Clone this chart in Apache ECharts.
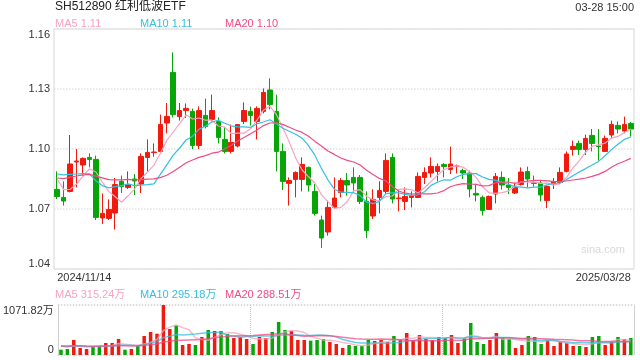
<!DOCTYPE html>
<html><head><meta charset="utf-8">
<script src="https://cdn.jsdelivr.net/npm/echarts@6/dist/echarts.min.js"></script>
<style>html,body{margin:0;padding:0;background:#fff}#c{width:640px;height:360px}</style>
</head><body><div id="c"></div>
<script>
const dates = [
'2024/11/14','2024/11/15','2024/11/18','2024/11/19','2024/11/20','2024/11/21','2024/11/22','2024/11/25','2024/11/26','2024/11/27','2024/11/28','2024/11/29',
'2024/12/02','2024/12/03','2024/12/04','2024/12/05','2024/12/06','2024/12/09','2024/12/10','2024/12/11','2024/12/12','2024/12/13','2024/12/16','2024/12/17','2024/12/18','2024/12/19','2024/12/20','2024/12/23','2024/12/24','2024/12/25','2024/12/26','2024/12/27','2024/12/30','2024/12/31',
'2025/01/02','2025/01/03','2025/01/06','2025/01/07','2025/01/08','2025/01/09','2025/01/10','2025/01/13','2025/01/14','2025/01/15','2025/01/16','2025/01/17','2025/01/20','2025/01/21','2025/01/22','2025/01/23','2025/01/24','2025/01/27',
'2025/02/05','2025/02/06','2025/02/07','2025/02/10','2025/02/11','2025/02/12','2025/02/13','2025/02/14','2025/02/17','2025/02/18','2025/02/19','2025/02/20','2025/02/21','2025/02/24','2025/02/25','2025/02/26','2025/02/27','2025/02/28',
'2025/03/03','2025/03/04','2025/03/05','2025/03/06','2025/03/07','2025/03/10','2025/03/11','2025/03/12','2025/03/13','2025/03/14','2025/03/17','2025/03/18','2025/03/19','2025/03/20','2025/03/21','2025/03/24','2025/03/25','2025/03/26','2025/03/27','2025/03/28'];

const opens = [1.0798,1.0758,1.0788,1.0935,1.092,1.0958,1.0948,1.0655,1.0653,1.068,
1.0838,1.0808,1.085,1.0825,1.0958,1.0982,1.0988,1.113,1.1383,1.1162,
1.1192,1.1188,1.1018,1.1168,1.1148,1.1138,1.1048,1.0988,1.1015,1.1138,
1.1188,1.1138,1.1188,1.1295,1.1188,1.0988,1.0828,1.0848,1.0848,1.0908,
1.0788,1.0645,1.0585,1.0708,1.0782,1.0842,1.0858,1.0858,1.0738,1.0665,
1.0758,1.0788,1.0958,1.0752,1.0738,1.0758,1.0758,1.0858,1.088,1.0888,
1.0922,1.0898,1.0912,1.0892,1.088,1.0778,1.0758,1.0698,1.0775,1.0858,
1.082,1.078,1.0822,1.0887,1.0832,1.083,1.0742,1.0825,1.0833,1.0888,
1.0998,1.1028,1.0998,1.1068,1.1015,1.0988,1.107,1.1118,1.109,1.1128];
const closes = [1.0762,1.074,1.0925,1.094,1.0953,1.0948,1.0658,1.0678,1.0698,1.0822,
1.0812,1.0822,1.084,1.0963,1.0983,1.0985,1.1123,1.1163,1.1172,1.1192,
1.1203,1.1018,1.1192,1.1113,1.1192,1.1058,1.0988,1.1033,1.1122,1.1192,
1.1168,1.1203,1.1283,1.1222,1.0988,1.0838,1.0842,1.0883,1.0923,1.082,
1.0678,1.0555,1.0708,1.0755,1.0842,1.082,1.083,1.0738,1.0592,1.0748,
1.0792,1.0943,1.075,1.0755,1.0763,1.0767,1.0863,1.0883,1.0913,1.0913,
1.0912,1.0925,1.0915,1.088,1.080,1.077,1.0692,1.0763,1.0863,1.082,
1.0808,1.0808,1.0885,1.085,1.0828,1.077,1.0813,1.0837,1.0883,1.0975,
1.1013,1.0998,1.1053,1.1028,1.1012,1.1053,1.1123,1.11,1.1123,1.11];
const lows = [1.075,1.0717,1.0783,1.0808,1.0867,1.0908,1.0645,1.0625,1.0645,1.0597,
1.078,1.080,1.077,1.078,1.0888,1.0962,1.0978,1.1078,1.1158,1.1142,
1.1155,1.100,1.100,1.1103,1.1138,1.1028,1.0978,1.0978,1.1008,1.1125,
1.1117,1.1048,1.1178,1.1198,1.0888,1.0795,1.0717,1.0758,1.0788,1.0787,
1.0667,1.0505,1.0567,1.070,1.0758,1.0767,1.0783,1.0725,1.0555,1.065,
1.0678,1.0775,1.0728,1.0688,1.0695,1.0708,1.0755,1.0825,1.0858,1.0838,
1.0858,1.0875,1.0878,1.085,1.0758,1.0738,1.0667,1.0695,1.0728,1.0797,
1.0775,1.0775,1.0817,1.0808,1.0812,1.0738,1.0705,1.080,1.0825,1.0883,
1.0967,1.097,1.097,1.0988,1.0942,1.0988,1.1053,1.1078,1.1078,1.1062];
const highs = [1.0888,1.0838,1.107,1.100,1.0958,1.0978,1.0967,1.0778,1.0748,1.0855,
1.0867,1.0888,1.0875,1.0978,1.1048,1.1028,1.1172,1.123,1.1483,1.123,
1.1228,1.1202,1.1213,1.1252,1.1272,1.1158,1.1108,1.1122,1.1125,1.1233,
1.1212,1.1213,1.1303,1.1353,1.1272,1.1028,1.0858,1.0888,1.0958,1.0912,
1.0825,1.0667,1.0742,1.0858,1.0855,1.088,1.0908,1.087,1.0788,1.0798,
1.0838,1.0978,1.0978,1.0795,1.0808,1.0788,1.0883,1.0908,1.0958,1.0928,
1.093,1.1012,1.0922,1.0902,1.0892,1.0822,1.0767,1.0767,1.088,1.0888,
1.0855,1.0832,1.0908,1.0912,1.0867,1.0842,1.0818,1.0855,1.0908,1.0988,
1.1042,1.1042,1.1072,1.110,1.110,1.1067,1.1142,1.1138,1.1162,1.1135];
const volumes = [114,129,322,150,129,179,193,257,257,343,
114,129,200,407,493,457,1071.82,557,636,214,
236,214,386,536,514,514,450,364,386,343,
236,386,364,493,707,536,514,322,322,307,
322,343,279,236,150,214,193,193,322,300,
322,279,407,322,472,322,429,343,322,386,
364,429,257,364,686,279,236,322,472,364,
343,150,214,407,386,236,322,193,279,257,
193,193,171,386,407,214,279,386,343,364];
// estimated closes/volumes of the 19 sessions before the first one shown (read from where the MA lines start)
const prevCloses = [1.080,1.078,1.082,1.086,1.088,1.085,1.083,1.087,1.084,1.082,1.078,1.0905,1.092,1.0935,1.0955,1.1007,1.092,1.0805,1.0758];
const prevVolumes = [180,210,160,230,190,170,220,200,150,240,210,180,190,230,170,200,210,190,220];

const priceMin = 1.04, priceMax = 1.16, priceStep = 0.03;
const volMax = 1071.82;
const titleText = 'SH512890 红利低波ETF';
const timeText = '03-28 15:00';
const maLegend = ['MA5 1.11','MA10 1.11','MA20 1.10'];
const volLegend = ['MA5 315.24万','MA10 295.18万','MA20 288.51万'];

const RED = '#f01a0e', GREEN = '#07a507';
const C5 = '#f7a3c2', C10 = '#36c0e0', C20 = '#ee4d84';
const FONT = '"Liberation Sans", Arial, "Noto Sans CJK SC", sans-serif';

function ma(n, prev, arr, dec) {
  const all = prev.concat(arr);
  return arr.map((_, i) => {
    const j = i + prev.length; let s = 0;
    for (let k = j - n + 1; k <= j; k++) s += all[k];
    return +(s / n).toFixed(dec);
  });
}
const candle = opens.map((o, i) => [o, closes[i], lows[i], highs[i]]);
const volData = volumes.map((v, i) => ({value: v, itemStyle: {color: closes[i] >= opens[i] ? RED : GREEN}}));

function lineSeries(name, data, color, xi, yi, w, op) {
  return {name, type: 'line', data, xAxisIndex: xi, yAxisIndex: yi, symbol: 'none', smooth: false,
    lineStyle: {color, width: w, opacity: op}, itemStyle: {color}, z: 3, silent: true};
}

const chart = echarts.init(document.getElementById('c'), null, {renderer: 'canvas'});
chart.setOption({
  animation: false,
  backgroundColor: '#fff',
  textStyle: {fontFamily: FONT},
  grid: [
    {left: 54, right: 6, top: 29, height: 240, show: true, borderColor: '#d6d6d6', borderWidth: 1, backgroundColor: 'transparent'},
    {left: 54, right: 6, top: 305, height: 50}
  ],
  xAxis: [
    {type: 'category', gridIndex: 0, data: dates, boundaryGap: true,
      axisLine: {show: false}, axisTick: {show: false}, splitLine: {show: false},
      axisLabel: {interval: (i) => i === 0 || i === dates.length - 1, color: '#333', fontSize: 11, margin: 3,
        fontFamily: FONT, alignMinLabel: 'left', alignMaxLabel: 'right'}},
    {type: 'category', gridIndex: 1, data: dates, boundaryGap: true,
      axisLine: {show: false}, axisTick: {show: false}, axisLabel: {show: false},
      splitLine: {show: true, interval: (i) => i === 30 || i === 60, lineStyle: {color: '#c8c8c8', type: 'dotted', width: 1}}}
  ],
  yAxis: [
    {type: 'value', gridIndex: 0, min: priceMin, max: priceMax, interval: priceStep, scale: true,
      axisLine: {show: false}, axisTick: {show: false},
      splitLine: {show: true, lineStyle: {color: '#e2e2e2', type: 'dotted', width: 1.5}},
      axisLabel: {color: '#333', fontSize: 11, margin: 4, fontFamily: FONT, formatter: (v) => v.toFixed(2),
        verticalAlignMinLabel: 'bottom', verticalAlignMaxLabel: 'top'}},
    {type: 'value', gridIndex: 1, min: 0, max: volMax, interval: volMax,
      axisLine: {show: true, lineStyle: {color: '#d0d0d0'}}, axisTick: {show: false},
      splitLine: {show: true, lineStyle: {color: '#cfcfcf', type: 'dotted', width: 1.5}},
      axisLabel: {color: '#333', fontSize: 11, margin: 4, fontFamily: FONT,
        formatter: (v) => v === 0 ? '0' : v.toFixed(2) + '万',
        verticalAlignMinLabel: 'bottom', verticalAlignMaxLabel: 'top'}},
    {type: 'value', gridIndex: 1, position: 'right', min: 0, max: volMax, interval: volMax,
      axisLine: {show: true, lineStyle: {color: '#d0d0d0'}}, axisTick: {show: false},
      splitLine: {show: false}, axisLabel: {show: false}}
  ],
  series: [
    {type: 'candlestick', name: 'K', data: candle, xAxisIndex: 0, yAxisIndex: 0, barWidth: 5,
      itemStyle: {color: RED, color0: GREEN, borderColor: RED, borderColor0: GREEN, borderWidth: 1}, z: 2},
    lineSeries('MA5', ma(5, prevCloses, closes, 4), C5, 0, 0, 1.2, 1),
    lineSeries('MA10', ma(10, prevCloses, closes, 4), C10, 0, 0, 1.2, 1),
    lineSeries('MA20', ma(20, prevCloses, closes, 4), C20, 0, 0, 1.2, 1),
    {type: 'bar', name: 'VOL', data: volData, xAxisIndex: 1, yAxisIndex: 1, barWidth: 3.5, z: 2},
    lineSeries('VMA5', ma(5, prevVolumes, volumes, 2), C5, 1, 1, 1.5, 0.75),
    lineSeries('VMA10', ma(10, prevVolumes, volumes, 2), C10, 1, 1, 1.5, 0.75),
    lineSeries('VMA20', ma(20, prevVolumes, volumes, 2), C20, 1, 1, 1.5, 0.75)
  ],
  graphic: [
    {type: 'text', left: 55, top: 1, style: {text: titleText, fontSize: 12, fill: '#222', fontFamily: FONT}},
    {type: 'text', right: 6, top: 2, style: {text: timeText, fontSize: 11, fill: '#333', fontFamily: FONT}},
    {type: 'text', left: 55, top: 18, style: {text: maLegend[0], fontSize: 11, fill: C5, fontFamily: FONT}},
    {type: 'text', left: 140, top: 18, style: {text: maLegend[1], fontSize: 11, fill: C10, fontFamily: FONT}},
    {type: 'text', left: 225, top: 18, style: {text: maLegend[2], fontSize: 11, fill: C20, fontFamily: FONT}},
    {type: 'text', left: 55, top: 289, style: {text: volLegend[0], fontSize: 11, fill: C5, fontFamily: FONT}},
    {type: 'text', left: 140, top: 289, style: {text: volLegend[1], fontSize: 11, fill: C10, fontFamily: FONT}},
    {type: 'text', left: 225, top: 289, style: {text: volLegend[2], fontSize: 11, fill: C20, fontFamily: FONT}},
    {type: 'text', left: 581, top: 244, style: {text: 'sina.com', fontSize: 11, fill: '#d8d8d8', fontFamily: FONT}}
  ]
});
</script></body></html>
